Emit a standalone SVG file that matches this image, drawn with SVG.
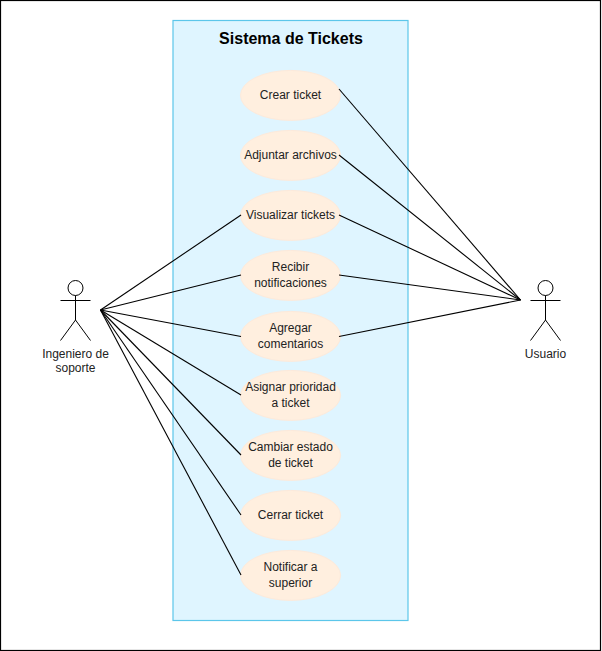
<svg xmlns="http://www.w3.org/2000/svg" width="602" height="651" viewBox="0 0 602 651">
<style>
.t{font-family:"Liberation Sans",Arial,sans-serif;font-size:12px;fill:#222;text-anchor:middle}
.u{fill:#ffefdf;stroke:#fdeadb;stroke-width:1}
.a{fill:none;stroke:#000;stroke-width:1}
#connectors line{stroke:#000;stroke-width:1.1}
</style>
<rect x="0.5" y="0.5" width="600" height="650" fill="#fff" stroke="#000" stroke-width="1.2"/>
<g id="system"><rect x="173" y="20.5" width="235" height="600" fill="#dff5ff" stroke="#5cc6ea" stroke-width="1.2"/>
<text x="291" y="44" style="font-family:'Liberation Sans',Arial,sans-serif;font-size:16px;font-weight:bold;text-anchor:middle;fill:#000">Sistema de Tickets</text></g>
<g id="uc1"><ellipse class="u" cx="290.5" cy="95.4" rx="50" ry="25"/><text class="t" x="290.5" y="99">Crear ticket</text></g>
<g id="uc2"><ellipse class="u" cx="290.5" cy="155.4" rx="50" ry="25"/><text class="t" x="290.5" y="159">Adjuntar archivos</text></g>
<g id="uc3"><ellipse class="u" cx="290.5" cy="215.4" rx="50" ry="25"/><text class="t" x="290.5" y="219">Visualizar tickets</text></g>
<g id="uc4"><ellipse class="u" cx="290.5" cy="275.4" rx="50" ry="25"/><text class="t" x="290.5" y="271">Recibir</text><text class="t" x="290.5" y="287">notificaciones</text></g>
<g id="uc5"><ellipse class="u" cx="290.5" cy="336.4" rx="50" ry="25"/><text class="t" x="290.5" y="332">Agregar</text><text class="t" x="290.5" y="348">comentarios</text></g>
<g id="uc6"><ellipse class="u" cx="290.5" cy="395.4" rx="50" ry="25"/><text class="t" x="290.5" y="391">Asignar prioridad</text><text class="t" x="290.5" y="407">a ticket</text></g>
<g id="uc7"><ellipse class="u" cx="290.5" cy="455.4" rx="50" ry="25"/><text class="t" x="290.5" y="451">Cambiar estado</text><text class="t" x="290.5" y="467">de ticket</text></g>
<g id="uc8"><ellipse class="u" cx="290.5" cy="515.4" rx="50" ry="25"/><text class="t" x="290.5" y="519">Cerrar ticket</text></g>
<g id="uc9"><ellipse class="u" cx="290.5" cy="575.4" rx="50" ry="25"/><text class="t" x="290.5" y="571">Notificar a</text><text class="t" x="290.5" y="587">superior</text></g>
<g id="connectors">
<line x1="100.5" y1="310" x2="241" y2="215"/>
<line x1="100.5" y1="310" x2="241" y2="275"/>
<line x1="100.5" y1="310" x2="241" y2="336.5"/>
<line x1="100.5" y1="310" x2="241" y2="395"/>
<line x1="100.5" y1="310" x2="241" y2="455"/>
<line x1="100.5" y1="310" x2="241" y2="515"/>
<line x1="100.5" y1="310" x2="241" y2="575"/>
<line x1="339" y1="89" x2="520.5" y2="300"/>
<line x1="339" y1="155" x2="520.5" y2="300"/>
<line x1="339" y1="215" x2="520.5" y2="300"/>
<line x1="339" y1="275" x2="520.5" y2="300"/>
<line x1="339" y1="336.5" x2="520.5" y2="300"/>
</g>
<g id="actor-ingeniero"><circle class="a" cx="75.5" cy="288" r="7.5"/><path class="a" d="M75.5 295.5V320M60.5 300.5H90.5M60.5 340.5L75.5 320L90.5 340.5"/>
<text class="t" x="75.5" y="358">Ingeniero de</text><text class="t" x="75.5" y="372">soporte</text></g>
<g id="actor-usuario"><circle class="a" cx="545.5" cy="288" r="7.5"/><path class="a" d="M545.5 295.5V320M530.5 300.5H560.5M530.5 340.5L545.5 320L560.5 340.5"/>
<text class="t" x="545.5" y="358">Usuario</text></g>
</svg>
